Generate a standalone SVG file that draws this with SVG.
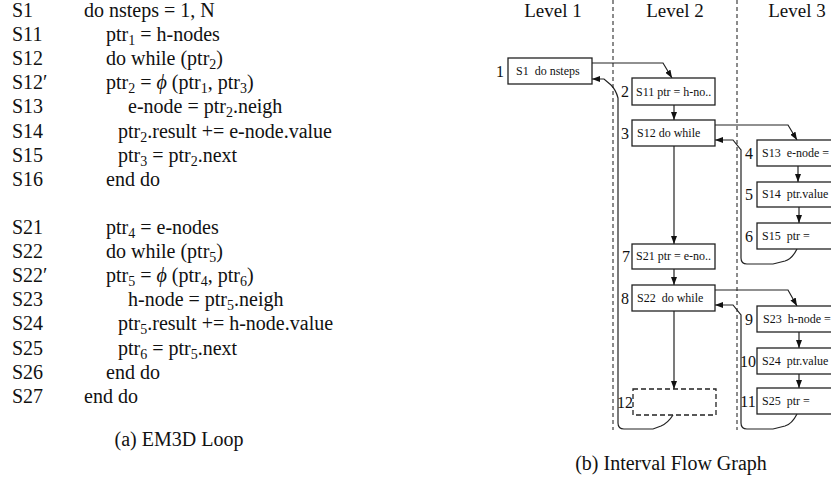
<svg xmlns="http://www.w3.org/2000/svg" width="831" height="480" viewBox="0 0 831 480">
<style>
.code{font-family:"Liberation Serif","Times New Roman",serif;font-size:20px;fill:#111}
.sub{font-size:14px}
.cap{font-family:"Liberation Serif","Times New Roman",serif;font-size:20px;fill:#111}
.lvl{font-family:"Liberation Serif","Times New Roman",serif;font-size:19px;fill:#111;text-anchor:middle}
.box{fill:#fff;stroke:#222;stroke-width:1.3}
.dbox{fill:none;stroke:#222;stroke-width:1.3;stroke-dasharray:5 3}
.nt{font-family:"Liberation Serif","Times New Roman",serif;font-size:12px;fill:#111;white-space:pre}
.nl{font-family:"Liberation Serif","Times New Roman",serif;font-size:16px;fill:#111;text-anchor:middle}
.sep{stroke:#666;stroke-width:1.5;stroke-dasharray:4 3;fill:none}
.edge{fill:none;stroke:#222;stroke-width:1.2}
.arr{fill:none;stroke:#222;stroke-width:1.2;marker-end:url(#ah)}
</style>
<defs>
<marker id="ah" viewBox="0 0 8 6" refX="8" refY="3" markerWidth="8" markerHeight="6" orient="auto" markerUnits="userSpaceOnUse"><path d="M0,0 L8,3 L0,6 z" fill="#111"/></marker>
</defs>
<rect width="831" height="480" fill="#fff"/>

<g id="code">
<text class="code" x="12" y="17">S1</text><text class="code" x="84" y="17">do nsteps = 1, N</text>
<text class="code" x="12" y="41">S11</text><text class="code" x="106" y="41">ptr<tspan class="sub" dy="4">1</tspan><tspan dy="-4"> = h-nodes</tspan></text>
<text class="code" x="12" y="65">S12</text><text class="code" x="106" y="65">do while (ptr<tspan class="sub" dy="4">2</tspan><tspan dy="-4">)</tspan></text>
<text class="code" x="12" y="89">S12′</text><text class="code" x="106" y="89">ptr<tspan class="sub" dy="4">2</tspan><tspan dy="-4"> = </tspan><tspan font-style="italic">ϕ</tspan> (ptr<tspan class="sub" dy="4">1</tspan><tspan dy="-4">, ptr</tspan><tspan class="sub" dy="4">3</tspan><tspan dy="-4">)</tspan></text>
<text class="code" x="12" y="113">S13</text><text class="code" x="128" y="113">e-node = ptr<tspan class="sub" dy="4">2</tspan><tspan dy="-4">.neigh</tspan></text>
<text class="code" x="12" y="137.5">S14</text><text class="code" x="118" y="137.5">ptr<tspan class="sub" dy="4">2</tspan><tspan dy="-4">.result += e-node.value</tspan></text>
<text class="code" x="12" y="161.5">S15</text><text class="code" x="118" y="161.5">ptr<tspan class="sub" dy="4">3</tspan><tspan dy="-4"> = ptr</tspan><tspan class="sub" dy="4">2</tspan><tspan dy="-4">.next</tspan></text>
<text class="code" x="12" y="185.5">S16</text><text class="code" x="106" y="185.5">end do</text>
<text class="code" x="12" y="234">S21</text><text class="code" x="106" y="234">ptr<tspan class="sub" dy="4">4</tspan><tspan dy="-4"> = e-nodes</tspan></text>
<text class="code" x="12" y="258">S22</text><text class="code" x="106" y="258">do while (ptr<tspan class="sub" dy="4">5</tspan><tspan dy="-4">)</tspan></text>
<text class="code" x="12" y="282">S22′</text><text class="code" x="106" y="282">ptr<tspan class="sub" dy="4">5</tspan><tspan dy="-4"> = </tspan><tspan font-style="italic">ϕ</tspan> (ptr<tspan class="sub" dy="4">4</tspan><tspan dy="-4">, ptr</tspan><tspan class="sub" dy="4">6</tspan><tspan dy="-4">)</tspan></text>
<text class="code" x="12" y="306">S23</text><text class="code" x="128" y="306">h-node = ptr<tspan class="sub" dy="4">5</tspan><tspan dy="-4">.neigh</tspan></text>
<text class="code" x="12" y="330">S24</text><text class="code" x="118" y="330">ptr<tspan class="sub" dy="4">5</tspan><tspan dy="-4">.result += h-node.value</tspan></text>
<text class="code" x="12" y="354.5">S25</text><text class="code" x="118" y="354.5">ptr<tspan class="sub" dy="4">6</tspan><tspan dy="-4"> = ptr</tspan><tspan class="sub" dy="4">5</tspan><tspan dy="-4">.next</tspan></text>
<text class="code" x="12" y="378.5">S26</text><text class="code" x="106" y="378.5">end do</text>
<text class="code" x="12" y="402.5">S27</text><text class="code" x="84" y="402.5">end do</text>
<text class="cap" x="179" y="446" text-anchor="middle">(a) EM3D Loop</text>
</g>

<g id="levels">
<text class="lvl" x="553" y="17">Level 1</text>
<text class="lvl" x="675" y="17">Level 2</text>
<text class="lvl" x="797" y="17">Level 3</text>
<path class="sep" d="M613,0 V430 M737,0 V430"/>
</g>

<g id="connectors">
<path class="arr" d="M592,63 L663,63 L672,78"/>
<path class="arr" d="M674,105 L674,120"/>
<path class="arr" d="M715,125 L788,125 L797,140"/>
<path class="arr" d="M798,166 L798,182"/>
<path class="arr" d="M799,207 L799,223"/>
<path class="arr" d="M797,249 Q792,259 785,261 L773,264 L747,264 Q741,264 741,258 L741,150 L733,140 L715,140"/>
<path class="arr" d="M674,146 L674,244"/>
<path class="arr" d="M674,269 L674,285"/>
<path class="arr" d="M715,290 L788,290 L797,306"/>
<path class="arr" d="M799,332 L799,348"/>
<path class="arr" d="M799,374 L799,388"/>
<path class="arr" d="M797,414 Q792,424 785,426 L773,429 L747,429 Q741,429 741,423 L741,315 L733,305 L715,305"/>
<path class="arr" d="M674,311 L674,389"/>
<path class="arr" d="M673,415 Q668,423 661,426 L653,429 L624,429 Q618,429 618,423 L618,98 Q616,90 611,85 L604,79 L592,79"/>
</g>

<g id="n1"><rect class="box" x="508" y="58" width="84" height="26"/><text class="nl" x="500" y="77">1</text><text class="nt" x="516" y="75">S1  do nsteps</text></g>
<g id="n2"><rect class="box" x="632" y="78" width="83" height="27"/><text class="nl" x="625" y="97">2</text><text class="nt" x="636" y="96">S11 ptr = h-no..</text></g>
<g id="n3"><rect class="box" x="632" y="120" width="83" height="26"/><text class="nl" x="625" y="139">3</text><text class="nt" x="637" y="137">S12 do while</text></g>
<g id="n4"><rect class="box" x="757" y="140" width="90" height="26"/><text class="nl" x="749" y="159">4</text><text class="nt" x="762" y="157">S13  e-node =</text></g>
<g id="n5"><rect class="box" x="757" y="182" width="90" height="25"/><text class="nl" x="749" y="200">5</text><text class="nt" x="762" y="198">S14  ptr.value</text></g>
<g id="n6"><rect class="box" x="757" y="223" width="90" height="26"/><text class="nl" x="749" y="242">6</text><text class="nt" x="762" y="240">S15  ptr =</text></g>
<g id="n7"><rect class="box" x="632" y="244" width="83" height="25"/><text class="nl" x="626" y="262">7</text><text class="nt" x="636" y="260">S21 ptr = e-no..</text></g>
<g id="n8"><rect class="box" x="632" y="285" width="83" height="26"/><text class="nl" x="625" y="304">8</text><text class="nt" x="637" y="302">S22  do while</text></g>
<g id="n9"><rect class="box" x="757" y="306" width="90" height="26"/><text class="nl" x="749" y="325">9</text><text class="nt" x="763" y="323">S23  h-node =</text></g>
<g id="n10"><rect class="box" x="757" y="348" width="90" height="26"/><text class="nl" x="748" y="367">10</text><text class="nt" x="762" y="365">S24  ptr.value</text></g>
<g id="n11"><rect class="box" x="757" y="388" width="90" height="26"/><text class="nl" x="748" y="407">11</text><text class="nt" x="762" y="405">S25  ptr =</text></g>
<g id="n12"><rect class="dbox" x="633" y="389" width="83" height="26"/><text class="nl" x="625" y="408">12</text></g>

<text class="cap" x="671" y="470" text-anchor="middle">(b) Interval Flow Graph</text>
</svg>
